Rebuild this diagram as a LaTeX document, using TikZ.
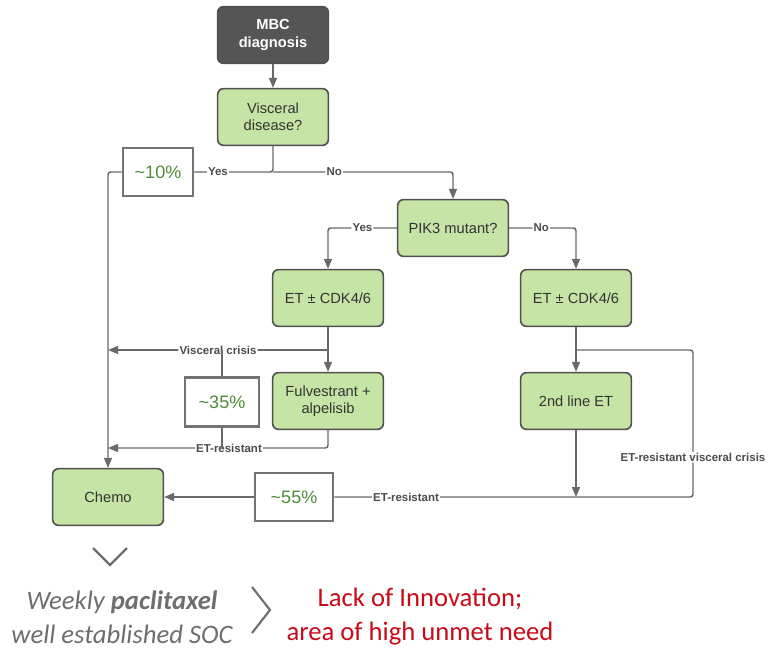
\documentclass[tikz,border=0pt]{standalone}
\usepackage{fontspec}
\setmainfont{Liberation Sans}
\newfontfamily\calfont{Carlito}
\usetikzlibrary{arrows.meta,positioning}
\definecolor{boxgreen}{RGB}{197,228,166}
\definecolor{boxline}{RGB}{80,80,80}
\definecolor{darkbox}{RGB}{85,85,85}
\definecolor{wirecol}{RGB}{105,105,105}
\definecolor{pctgreen}{RGB}{78,140,55}
\definecolor{needred}{RGB}{200,10,25}
\definecolor{soctext}{RGB}{110,110,110}

\begin{document}
\begin{tikzpicture}[x=0.75pt,y=-0.75pt,every node/.style={align=center},box/.style={draw=boxline,line width=1.2pt,rounded corners=1.5mm,fill=boxgreen,minimum width=83pt,minimum height=42.5pt,font=\fontsize{11}{13}\selectfont,text=black!80},start/.style={box,fill=darkbox,text=white,font=\fontsize{11}{13}\selectfont\bfseries},pct/.style={draw=black!55,line width=2pt,fill=white,font=\fontsize{13.5}{15}\selectfont,text=pctgreen},lbl/.style={fill=white,inner sep=0.8pt,font=\fontsize{8.6}{10}\selectfont\bfseries,text=black!70},link/.style={draw=wirecol,line width=1.1pt,rounded corners=2pt},arrow/.style={link,-{Triangle[length=7.5pt,width=6pt]}},chev/.style={draw=soctext,line width=1.6pt}]
\useasboundingbox (0,0) rectangle (772,649);
% flow chart
\node[start] (mbc) at (273,35) {MBC\\diagnosis};
\node[box] (visc) at (273,117) {Visceral\\disease?};
\node[pct,minimum width=52.5pt,minimum height=36pt] (p10) at (158,172) {\textasciitilde10\%};
\node[box] (pik) at (453,228) {PIK3 mutant?};
\node[box] (etl) at (328,298) {ET ± CDK4/6};
\node[box] (etr) at (576,298) {ET ± CDK4/6};
\node[box] (fulv) at (328,401) {Fulvestrant +\\alpelisib};
\node[box] (sec) at (576,401) {2nd line ET};
\node[pct,minimum width=55.5pt,minimum height=36.5pt] (p35) at (222,402) {\textasciitilde35\%};
\node[pct,minimum width=58.5pt,minimum height=36pt] (p55) at (294,497) {\textasciitilde55\%};
\node[box] (chemo) at (108,497) {Chemo};
\coordinate (split) at (273,172);
\coordinate (vc) at (328,350); \coordinate (vcend) at (108,350);
\coordinate (er) at (328,448); \coordinate (erend) at (108,448);
\coordinate (rc) at (576,350); \coordinate (rtop) at (693,350); \coordinate (rbot) at (693,497);
\draw[arrow] (mbc)--(visc);
\draw[link] (visc)--(split)--node[lbl,pos=0.7]{Yes}(p10.east);
\draw[arrow] (split)-|node[lbl,pos=0.17]{No}(pik);
\draw[arrow] (p10.west)-|(chemo.north);
\draw[arrow] (pik.west)-|node[lbl,pos=0.25]{Yes}(etl);
\draw[arrow] (pik.east)-|node[lbl,pos=0.24]{No}(etr);
\draw[arrow] (etl)--(fulv);
\draw[arrow] (vc)--node[lbl,pos=0.5]{Visceral crisis}(vcend);
\draw[arrow] (fulv)--(er)--node[lbl,pos=0.45]{ET-resistant}(erend);
\draw[link] (p35.north)--(p35.north|-vc); \draw[link] (p35.south)--(p35.south|-er);
\draw[arrow] (etr)--(sec);
\draw[link] (rc)--(rtop)--node[lbl,pos=0.73]{ET-resistant visceral crisis}(rbot)--node[lbl,pos=0.8]{ET-resistant}(p55.east);
\draw[arrow] (sec)--(sec|-rbot);
\draw[arrow] (p55)--(chemo);
% standard of care and unmet need
\draw[chev] (93,548)--(110,565)--(127,548);
\draw[chev] (252,587)--(270,610)--(252,633);
\node[font=\calfont\fontsize{20}{25.5}\selectfont\itshape,text=soctext] (soc) at (122,617) {Weekly \textbf{paclitaxel}\\well established SOC};
\node[font=\calfont\fontsize{20}{25.5}\selectfont,text=needred] (need) at (420,617) {Lack of Innovation;\\area of high unmet need};
\end{tikzpicture}
\end{document}
